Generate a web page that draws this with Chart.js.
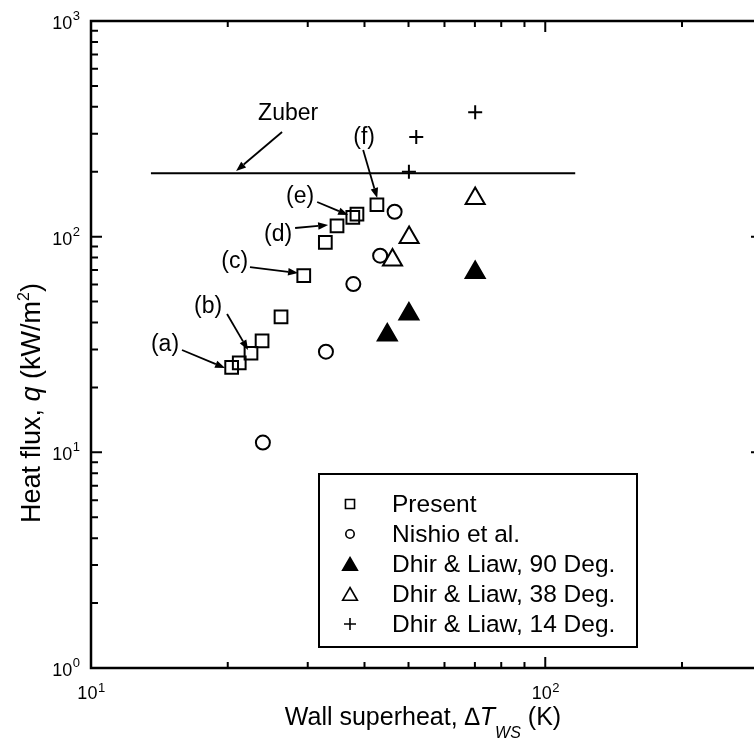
<!DOCTYPE html>
<html><head><meta charset="utf-8">
<script src="https://cdn.jsdelivr.net/npm/chart.js@4.4.1/dist/chart.umd.min.js"></script>
<style>
html,body{margin:0;padding:0;overflow:hidden;background:#fff;width:754px;height:742px}
#wrap{position:absolute;left:0;top:0;width:770px;height:742px;overflow:hidden}
canvas{display:block}
</style>
</head><body><div id="wrap"><canvas id="c" width="770" height="742" style="width:770px;height:742px"></canvas></div>
<script>
// ---- axis ranges and ticks ----
const xMin = 10, xMax = 300, yMin = 1, yMax = 1000;
const xMajorTicks = [10, 100];
const xTickExponents = ['1', '2'];
const yMajorTicks = [1, 10, 100, 1000];
const yTickExponents = ['0', '1', '2', '3'];

// ---- series (wall superheat K, heat flux kW/m2) ----
const presentDT = [20.4, 21.2, 22.5, 23.8, 26.2, 29.4, 32.8, 34.8, 37.7, 38.5, 42.6];
const presentQ  = [24.8, 26.0, 28.8, 32.9, 42.5, 65.9, 94.1, 112.3, 122.9, 127.3, 140.6];
const nishioDT  = [23.9, 32.9, 37.8, 43.3, 46.6];
const nishioQ   = [11.1, 29.3, 60.3, 81.6, 130.5];
const dhir90DT  = [44.9, 50.1, 70.1];
const dhir90Q   = [35.0, 43.8, 68.2];
const dhir38DT  = [46.1, 50.15, 70.1];
const dhir38Q   = [78.0, 99.1, 150.3];
const dhir14DT  = [50.1, 52.0, 70.1];
const dhir14Q   = [200, 290, 377];
const zuberDT   = [13.55, 116.4];
const zuberQ    = [197, 197];

const seriesNames = ['Present', 'Nishio et al.', 'Dhir & Liaw, 90 Deg.', 'Dhir & Liaw, 38 Deg.', 'Dhir & Liaw, 14 Deg.'];

// ---- annotations (data coordinates) ----
const annotLabels = ['(a)', '(b)', '(c)', '(d)', '(e)', '(f)', 'Zuber'];
const annotTextDT = [14.55, 18.11, 20.71, 25.82, 28.86, 39.93, 27.16];
const annotTextQ  = [31.45, 47.2, 76.3, 101.8, 153.6, 288.4, 370.4];
const arrowFromDT = [15.86, 19.93, 22.39, 28.14, 31.47, 39.73, 26.34];
const arrowFromQ  = [29.82, 43.8, 72.3, 109.7, 144.8, 252.2, 305.7];
const arrowToDT   = [19.73, 22.17, 28.57, 33.27, 36.82, 42.66, 20.86];
const arrowToQ    = [24.6, 29.8, 67.8, 113.2, 126.0, 151.1, 201.6];

const FONT = '"Liberation Sans", Arial, Helvetica, sans-serif';
const pts = (xs, ys) => xs.map((v, i) => ({x: v, y: ys[i]}));

function pointSet(label, xs, ys, style, r, fill) {
  return {
    label, data: pts(xs, ys), pointStyle: style, pointRadius: r, pointHoverRadius: r,
    borderColor: '#000', backgroundColor: fill, pointBorderColor: '#000',
    pointBackgroundColor: fill, borderWidth: 2, pointBorderWidth: 2, showLine: false
  };
}

const datasets = [
  pointSet(seriesNames[0], presentDT, presentQ, 'rect', 9, 'rgba(0,0,0,0)'),
  pointSet(seriesNames[1], nishioDT, nishioQ, 'circle', 7, 'rgba(0,0,0,0)'),
  pointSet(seriesNames[2], dhir90DT, dhir90Q, 'triangle', 11, '#000'),
  pointSet(seriesNames[3], dhir38DT, dhir38Q, 'triangle', 11, 'rgba(0,0,0,0)'),
  pointSet(seriesNames[4], dhir14DT, dhir14Q, 'cross', 7, 'rgba(0,0,0,0)'),
  {label: 'Zuber', data: pts(zuberDT, zuberQ), showLine: true, borderColor: '#000',
   borderWidth: 2, pointRadius: 0, pointHoverRadius: 0, fill: false}
];

const legendStyles = [
  {pointStyle: 'rect', radius: 6.4, fill: 'rgba(0,0,0,0)'},
  {pointStyle: 'circle', radius: 4.2, fill: 'rgba(0,0,0,0)'},
  {pointStyle: 'triangle', radius: 8.5, fill: '#000'},
  {pointStyle: 'triangle', radius: 8.5, fill: 'rgba(0,0,0,0)'},
  {pointStyle: 'cross', radius: 6, fill: 'rgba(0,0,0,0)'}
];

function rich(ctx, segs, x, y, align) {
  let total = 0;
  const ws = segs.map(s => { ctx.font = s[1]; const w = ctx.measureText(s[0]).width; total += w; return w; });
  let cx = align === 'center' ? x - total / 2 : (align === 'right' ? x - total : x);
  ctx.textAlign = 'left';
  segs.forEach((s, i) => { ctx.font = s[1]; ctx.fillText(s[0], cx, y + s[2]); cx += ws[i]; });
}

function arrow(ctx, x0, y0, x1, y1) {
  const ang = Math.atan2(y1 - y0, x1 - x0);
  const L = 10, W = 3.8;
  const bx = x1 - L * Math.cos(ang), by = y1 - L * Math.sin(ang);
  ctx.beginPath(); ctx.moveTo(x0, y0); ctx.lineTo(bx, by); ctx.stroke();
  ctx.beginPath();
  ctx.moveTo(x1, y1);
  ctx.lineTo(bx + W * Math.sin(ang), by - W * Math.cos(ang));
  ctx.lineTo(bx - W * Math.sin(ang), by + W * Math.cos(ang));
  ctx.closePath(); ctx.fill();
}

const decor = {
  id: 'decor',
  afterDraw(chart) {
    const {ctx, chartArea: a} = chart;
    const xs = chart.scales.x, ys = chart.scales.y;
    ctx.save();
    ctx.strokeStyle = '#000'; ctx.fillStyle = '#000';
    ctx.lineCap = 'butt';
    // minor & major ticks, inward on all 4 sides
    ctx.lineWidth = 2;
    ctx.beginPath();
    for (let e = Math.floor(Math.log10(xMin)); e <= Math.ceil(Math.log10(xMax)); e++) {
      for (let m = 1; m <= 9; m++) {
        const v = m * Math.pow(10, e);
        if (v < xMin - 1e-9 || v > xMax + 1e-9) continue;
        const p = xs.getPixelForValue(v), len = m === 1 ? 11 : 6;
        ctx.moveTo(p, a.bottom); ctx.lineTo(p, a.bottom - len);
        ctx.moveTo(p, a.top); ctx.lineTo(p, a.top + len);
      }
    }
    for (let e = Math.floor(Math.log10(yMin)); e <= Math.ceil(Math.log10(yMax)); e++) {
      for (let m = 1; m <= 9; m++) {
        const v = m * Math.pow(10, e);
        if (v < yMin - 1e-9 || v > yMax + 1e-9) continue;
        const p = ys.getPixelForValue(v), len = m === 1 ? 11 : 7;
        ctx.moveTo(a.left, p); ctx.lineTo(a.left + len, p);
        ctx.moveTo(a.right, p); ctx.lineTo(a.right - len, p);
      }
    }
    ctx.stroke();
    // frame
    ctx.lineWidth = 2.5;
    ctx.strokeRect(a.left, a.top, a.right - a.left, a.bottom - a.top);

    // tick labels
    ctx.textBaseline = 'alphabetic';
    xMajorTicks.forEach((v, i) => {
      const p = xs.getPixelForValue(v);
      ctx.font = '18px ' + FONT; const w1 = ctx.measureText('10').width;
      ctx.font = '13px ' + FONT; const w2 = ctx.measureText(xTickExponents[i]).width;
      const sx = p - (w1 + w2) / 2;
      ctx.textAlign = 'left';
      ctx.font = '18px ' + FONT; ctx.fillText('10', sx, a.bottom + 31);
      ctx.font = '13px ' + FONT; ctx.fillText(xTickExponents[i], sx + w1 + 0.5, a.bottom + 23.5);
    });
    yMajorTicks.forEach((v, i) => {
      const p = ys.getPixelForValue(v);
      ctx.font = '13px ' + FONT; const w2 = ctx.measureText(yTickExponents[i]).width;
      const right = a.left - 11;
      ctx.textAlign = 'left';
      ctx.fillText(yTickExponents[i], right - w2, p - 1);
      ctx.font = '18px ' + FONT; const w1 = ctx.measureText('10').width;
      ctx.fillText('10', right - w2 - 0.5 - w1, p + 8);
    });

    // axis titles
    const N = '25px ' + FONT, I = 'italic 25px ' + FONT, S = 'italic 16px ' + FONT;
    rich(ctx, [['Wall superheat, ', N, 0], ['\u2206T', I, 0], ['WS', S, 13], [' (K)', N, 0]],
         423, 725, 'center');
    const NY = '27px ' + FONT, IY = 'italic 27px ' + FONT, SUP = '16px ' + FONT;
    ctx.save();
    ctx.translate(40, 403);
    ctx.rotate(-Math.PI / 2);
    rich(ctx, [['Heat flux, ', NY, 0], ['q', IY, 0], [' (kW/m', NY, 0], ['2', SUP, -11], [')', NY, 0]], 0, 0, 'center');
    ctx.restore();

    // annotations
    ctx.lineWidth = 1.8;
    ctx.textAlign = 'center'; ctx.textBaseline = 'middle';
    ctx.font = '23px ' + FONT;
    annotLabels.forEach((t, i) => {
      ctx.fillText(t, xs.getPixelForValue(annotTextDT[i]), ys.getPixelForValue(annotTextQ[i]));
      arrow(ctx, xs.getPixelForValue(arrowFromDT[i]), ys.getPixelForValue(arrowFromQ[i]),
            xs.getPixelForValue(arrowToDT[i]), ys.getPixelForValue(arrowToQ[i]));
    });

    // legend box
    const lx = 319, ly = 474, lw = 318, lh = 173;
    ctx.fillStyle = '#fff'; ctx.fillRect(lx, ly, lw, lh);
    ctx.fillStyle = '#000'; ctx.lineWidth = 2;
    ctx.strokeRect(lx, ly, lw, lh);
    ctx.font = '24.5px ' + FONT; ctx.textAlign = 'left'; ctx.textBaseline = 'middle';
    seriesNames.forEach((name, i) => {
      const ry = ly + 30 + i * 30;
      const st = legendStyles[i];
      ctx.save();
      ctx.fillStyle = st.fill; ctx.strokeStyle = '#000'; ctx.lineWidth = 1.6;
      Chart.helpers.drawPoint(ctx, {pointStyle: st.pointStyle, radius: st.radius, rotation: 0, borderWidth: 1.6},
        350, st.pointStyle === 'triangle' ? ry + 2 : ry);
      ctx.restore();
      ctx.fillStyle = '#000';
      ctx.fillText(name, 392, ry + 1);
    });
    ctx.restore();
  }
};

new Chart(document.getElementById('c'), {
  type: 'scatter',
  data: {datasets},
  options: {
    responsive: false,
    animation: false,
    devicePixelRatio: 1,
    layout: {autoPadding: false, padding: {left: 91, top: 21, right: 8, bottom: 74}},
    plugins: {legend: {display: false}, tooltip: {enabled: false}},
    events: [],
    scales: {
      x: {type: 'logarithmic', min: xMin, max: xMax, display: false, bounds: 'data'},
      y: {type: 'logarithmic', min: yMin, max: yMax, display: false, bounds: 'data'}
    }
  },
  plugins: [decor]
});
</script>
</body></html>
